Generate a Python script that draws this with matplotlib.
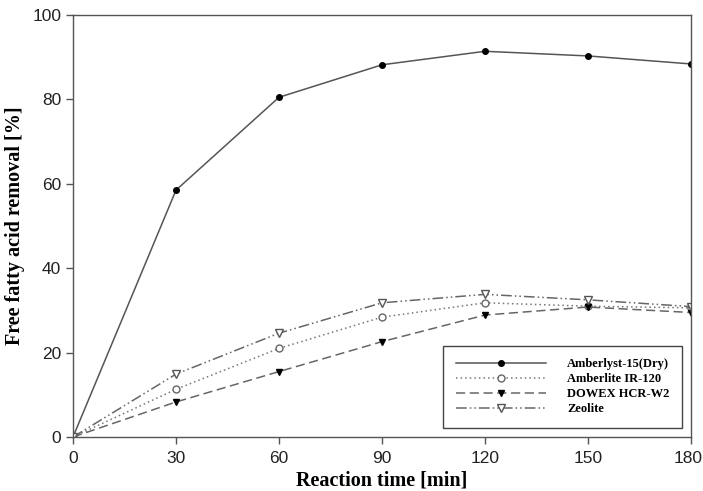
import matplotlib
matplotlib.use("Agg")
import matplotlib.pyplot as plt
from matplotlib.transforms import ScaledTranslation

time = [0, 30, 60, 90, 120, 150, 180]
amberlyst = [0, 58.5, 80.5, 88.2, 91.4, 90.3, 88.4]
amberlite = [0, 11.3, 21.0, 28.4, 31.8, 31.0, 30.6]
dowex = [0, 8.3, 15.5, 22.6, 28.9, 30.8, 29.5]
zeolite = [0, 14.9, 24.6, 31.8, 33.8, 32.5, 30.9]
labels = ["Amberlyst-15(Dry)", "Amberlite IR-120", "DOWEX HCR-W2", "Zeolite"]

fig = plt.figure(figsize=(7.03, 4.91), dpi=100)
ax = fig.add_axes([73/703, 54/491, 618/703, 422/491])

ax.plot(time, amberlyst, color="#555555", lw=1.1, ls="-", marker="o", ms=4,
        mfc="black", mec="black", label=labels[0])
ax.plot(time, amberlite, color="#777777", lw=1.1, ls=(0, (1, 2)), marker="o", ms=5,
        mfc="white", mec="#666666", label=labels[1])
ax.plot(time, dowex, color="#666666", lw=1.1, ls=(0, (6, 3)), marker="v", ms=5,
        mfc="black", mec="black", label=labels[2])
ax.plot(time, zeolite, color="#666666", lw=1.1, ls=(0, (7, 2, 1, 2, 1, 2)), marker="v", ms=5.5,
        mfc="white", mec="#555555", label=labels[3])

ax.set_xlim(0, 180)
ax.set_ylim(0, 100)
ax.set_xticks([0, 30, 60, 90, 120, 150, 180])
ax.set_yticks([0, 20, 40, 60, 80, 100])
ax.tick_params(direction="out", length=5, width=1, color="#555555",
               labelsize=12.5, labelcolor="#222222")
ax.tick_params(axis="x", pad=5)
for lab in ax.get_xticklabels() + ax.get_yticklabels():
    lab.set_family("Liberation Sans")
last = ax.get_xticklabels()[-1]
last.set_transform(last.get_transform() + ScaledTranslation(-3/100, 0, fig.dpi_scale_trans))
for s in ax.spines.values():
    s.set_color("#555555")
    s.set_linewidth(1.0)

ax.set_xlabel("Reaction time [min]", family="Liberation Serif", fontweight="bold",
              fontsize=14.5, labelpad=3)
ax.set_ylabel("Free fatty acid removal [%]", family="Liberation Serif", fontweight="bold",
              fontsize=14.5, labelpad=5)

leg = ax.legend(loc="lower right", bbox_to_anchor=((682-73)/618, 9/422), borderaxespad=0,
                fancybox=False,
                edgecolor="#444444", framealpha=1, handlelength=7.2, handletextpad=1.7,
                borderpad=1.0, labelspacing=0.25,
                prop={"family": "Liberation Serif", "weight": "bold", "size": 9})
leg.get_frame().set_linewidth(1.0)

fig.savefig("out.png", dpi=100)
